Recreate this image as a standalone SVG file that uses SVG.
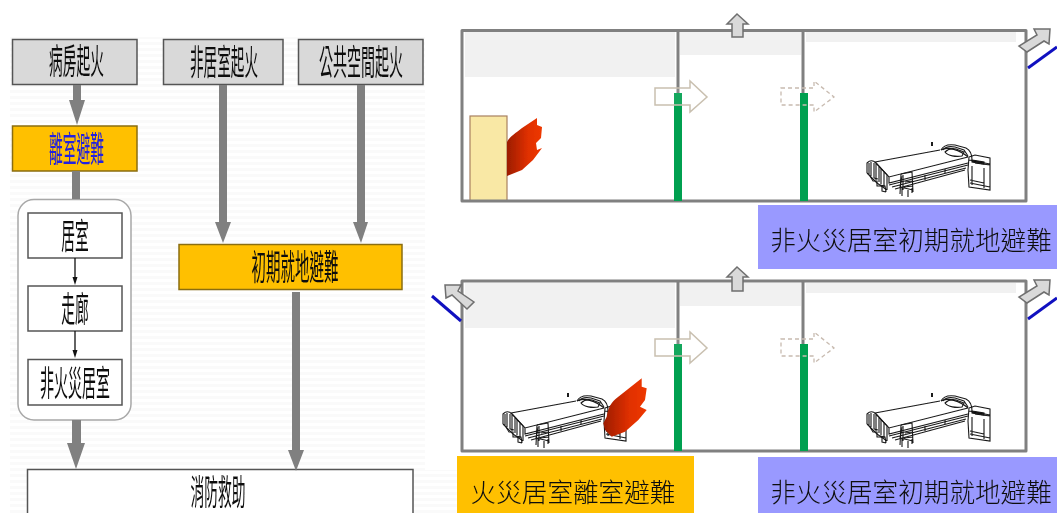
<svg xmlns="http://www.w3.org/2000/svg" xmlns:xlink="http://www.w3.org/1999/xlink" width="1057" height="513" viewBox="0 0 1057 513">
<style>
text{font-family:"Liberation Sans","Noto Sans CJK TC",sans-serif;text-anchor:middle;fill:#111}
.t{font-size:32px;filter:url(#softText)}
.s{font-family:"Liberation Serif","Noto Sans CJK TC",serif;font-size:25.600px;font-weight:300;fill:#111;filter:url(#softText)}
.g{fill:#d9d9d9;stroke:#555;stroke-width:1.5}
.o{fill:#ffc000;stroke:#8a6d10;stroke-width:1.5}
.w{fill:#fff;stroke:#555;stroke-width:1.5}
.a{fill:#808080}
.wall{fill:none;stroke:#808080;stroke-width:3;stroke-linejoin:round}
.door{fill:#00a050}
.smoke{fill:#f1f1f1}
.hollow{fill:#fff;fill-opacity:.08;stroke:#c9c0b0;stroke-width:1.5}
.dash{fill:none;stroke:#c8bbb0;stroke-width:1.3;stroke-dasharray:4 3}
.exit{fill:#d9d9d9;stroke:#6f6f6f;stroke-width:1.5}
.blue{stroke:#1010c0;stroke-width:3}
.bed path,.bed rect{fill:none;stroke:#1a1a1a;stroke-width:1.1}
</style>
<defs>
<pattern id="stripes" width="6" height="6" patternUnits="userSpaceOnUse"><rect width="6" height="3" fill="#fafafa"/></pattern>
<linearGradient id="fire" x1="0" y1="0" x2="1" y2="0"><stop offset="0" stop-color="#9c1c00"/><stop offset=".6" stop-color="#e03000"/><stop offset="1" stop-color="#ee3800"/></linearGradient>
<filter id="soft" x="-5%" y="-5%" width="110%" height="110%"><feGaussianBlur stdDeviation="0.4"/></filter>
<filter id="softText" x="-5%" y="-5%" width="110%" height="110%"><feGaussianBlur stdDeviation="0.3"/></filter>
<g id="bed" class="bed">
<path d="M875,162L940,150M875,162L889,177L968,157M889,177L889,183L968,163M941,150C947,146 960,150 968,157"/>
<path d="M941,150C943,146 948,144 955,145L966,148C970,150 972,154 972,160M943,150C945,147 949,146 955,147L964,150L968,156M945,152C948,149 952,148 956,149L964,152L962,156C956,157 948,156 945,152Z"/>
<path d="M867,173L867,163C870,160 873,160 876,163L887,175L887,190M869,163L869,175M871,162L871,176M874,163L874,178M876,164L876,180M879,167L879,182M881,169L881,184M884,172L884,187M867,173L877,183L887,190"/>
<path d="M870,176L873,181L877,181L877,186L882,186L882,191L886,192M880,185L885,186L886,192M874,178L878,179"/>
<path d="M889,185L968,165M892,187L966,168M895,189L965,170M900,188L902,176M925,180L925,175M945,174L945,169"/>
<path d="M901,174L912,172L913,192M901,174L900,194M903,175L903,190M905,182L912,181M904,187L913,186M900,187L913,190M902,188L902,196M912,188L912,193M908,190L908,197"/>
<path d="M969,157L975,155L990,158L990,190L969,187L968,170Z M975,163L990,165M969,160L990,164M972,166L972,185M984,168L984,188M970,183L990,187M970,180L984,183"/>
<path d="M972,160L984,162L984,164L972,162Z" style="fill:#111"/>
<path d="M932,142L932,146" style="stroke-width:2"/>
</g>
</defs>
<rect width="1057" height="513" fill="#fff"/>
<rect x="10" y="37" width="415" height="476" fill="url(#stripes)"/>
<rect x="420" y="470" width="40" height="43" fill="url(#stripes)"/>

<g id="n-ward"><rect class="g" x="12.500" y="39.500" width="124.500" height="45"/><text class="t" transform="translate(76.500 74) scale(.43 1.1)">病房起火</text></g>
<g id="n-nonroom"><rect class="g" x="163.500" y="39.500" width="119.500" height="45"/><text class="t" transform="translate(224 74.500) scale(.425 1.1)">非居室起火</text></g>
<g id="n-public"><rect class="g" x="298.500" y="39.500" width="124.500" height="45"/><text class="t" transform="translate(361 74.500) scale(.4375 1.1)">公共空間起火</text></g>
<g id="n-leave"><rect class="o" x="12.500" y="126" width="124.500" height="45"/><text class="t" style="fill:#2020e0" transform="translate(76.500 161.500) scale(.43 1.1)">離室避難</text></g>
<g id="n-group"><rect x="18" y="199.500" width="113" height="220.500" rx="16" fill="#fff" stroke="#a8a8a8" stroke-width="1.5"/></g>
<g id="n-room"><rect class="w" x="28" y="213" width="94" height="45"/><text class="t" transform="translate(75 248.500) scale(.43 1.1)">居室</text></g>
<g id="n-corridor"><rect class="w" x="28" y="286" width="94" height="45"/><text class="t" transform="translate(75 321.500) scale(.43 1.1)">走廊</text></g>
<g id="n-nonfire"><rect class="w" x="28" y="359.500" width="94" height="45.500"/><text class="t" transform="translate(75 395.500) scale(.4375 1.1)">非火災居室</text></g>
<g id="n-shelter"><rect class="o" x="179" y="244.500" width="223" height="45"/><text class="t" transform="translate(295 279.500) scale(.453 1.1)">初期就地避難</text></g>
<g id="n-rescue"><rect x="27.500" y="469.500" width="385.500" height="60" fill="#fff" stroke="#555" stroke-width="1.5"/><text class="t" transform="translate(218 504.500) scale(.43 1.1)">消防救助</text></g>

<g id="connectors">
<path class="a" d="M73,85H81V100H85L77,125L69,100H73Z"/>
<path class="a" d="M72,171H80V199H72Z"/>
<path class="a" d="M219,85H227V222H231L223,243L215,222H219Z"/>
<path class="a" d="M357,85H365V222H368L361,243L353,222H357Z"/>
<path class="a" d="M72,420H81V443H85L76,469L67,443H72Z"/>
<path class="a" d="M292,292H300V450H304L296,471L288,450H292Z"/>
<path d="M75,258V278M75,331V351" stroke="#111" stroke-width="1.3"/>
<path d="M72.500,277L75,285L77.500,277ZM72.500,350L75,358L77.500,350Z" fill="#111"/>
</g>

<g id="room-top">
<rect class="smoke" x="465" y="32" width="210" height="45"/>
<rect class="smoke" x="680" y="32" width="121" height="23"/>
<rect class="smoke" x="806" y="32" width="210" height="10"/>
<rect x="470" y="116" width="37" height="85" fill="#f9e8a5" stroke="#a88060" stroke-width="1.2"/>
<path fill="url(#fire)" filter="url(#soft)" d="M507,142C510,136 516,133 522,128L537,118L537,125L542,127L541,138L536,143L537,150L542,148L533,160L522,170L507,176Z"/>
<path class="wall" d="M462,30.500H1026V201H462Z M678,30.500V93 M803,30.500V93"/>
<rect class="door" x="674" y="93" width="8" height="108"/>
<rect class="door" x="800" y="93" width="8" height="108"/>
<path class="hollow" d="M655,88H690V81L707,97L690,112V105H655Z"/>
<path class="dash" d="M781,88H814V81L834,97L814,112V105H781Z"/>
<path class="exit" d="M737,14L727,24H732V37H743V24H748Z"/>
<path class="blue" d="M1028,68L1057,47"/>
<path class="exit" d="M1050,29L1034,29L1037,35L1019,46L1027,52L1044,41L1049,44Z"/>
<use xlink:href="#bed" href="#bed" filter="url(#soft)"/>
</g>

<g id="room-bottom">
<rect class="smoke" x="465" y="283" width="210" height="45"/>
<rect class="smoke" x="680" y="283" width="121" height="23"/>
<rect class="smoke" x="806" y="283" width="210" height="10"/>
<use xlink:href="#bed" href="#bed" transform="translate(-364,251)" filter="url(#soft)"/>
<use xlink:href="#bed" href="#bed" transform="translate(0,251)" filter="url(#soft)"/>
<path fill="url(#fire)" filter="url(#soft)" d="M606.700,416.700C608,408 611,402 618,397L641.700,378.300L641.700,386.700L646.700,388.300L645,400L640,406.700L646.700,410L638.300,420L625,431.700L611.700,436.700L605,430L603.300,423.300Z"/>
<path class="wall" d="M462,281H1026V451H462Z M678,281V344 M803,281V344"/>
<rect class="door" x="674" y="344" width="8" height="107"/>
<rect class="door" x="800" y="344" width="8" height="107"/>
<path class="hollow" d="M655,339H690V332L707,348L690,363V356H655Z"/>
<path class="dash" d="M781,339H814V332L834,348L814,363V356H781Z"/>
<path class="exit" d="M737,267L727,277H732V291H743V277H748Z"/>
<path class="blue" d="M432,296L461,321"/>
<path class="exit" d="M445,285L461,285L458,291L474,302L467,309L452,295L446,298Z"/>
<path class="blue" d="M1028,319L1057,298"/>
<path class="exit" d="M1050,280L1034,280L1037,286L1019,297L1027,303L1044,292L1049,295Z"/>
</g>

<g id="label-top"><rect x="758" y="205" width="299" height="64" fill="#9999ff"/><text class="s" x="911" y="249.500">非火災居室初期就地避難</text></g>
<g id="label-bottom-left"><rect x="457" y="456" width="237" height="57" fill="#ffc000"/><text class="s" x="573" y="501.500">火災居室離室避難</text></g>
<g id="label-bottom-right"><rect x="758" y="457" width="299" height="56" fill="#9999ff"/><text class="s" x="911" y="501.500">非火災居室初期就地避難</text></g>
</svg>
